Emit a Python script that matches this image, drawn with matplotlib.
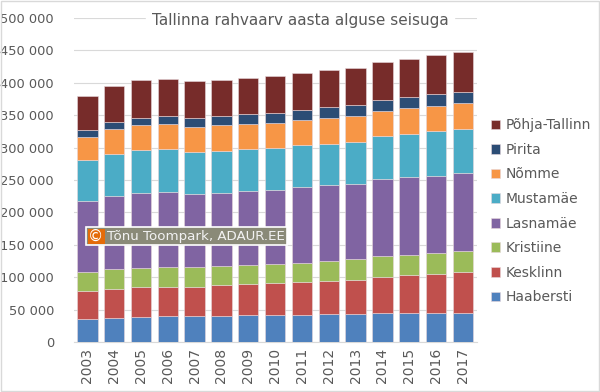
import matplotlib
matplotlib.use("Agg")
from matplotlib import pyplot as plt
from matplotlib.patches import Rectangle
import numpy as np

years = [str(y) for y in range(2003, 2018)]

# linnaosad, alt üles
haabersti = [35500, 37500, 38600, 39600, 39600, 40600, 41700, 41700, 42200, 43700, 43700, 44300, 44300, 45300, 45300]
kesklinn = [42700, 44800, 46300, 45800, 45800, 47900, 48300, 48800, 50400, 50900, 52500, 56000, 58600, 59600, 62200]
kristiine = [29300, 29900, 29800, 30300, 30300, 29300, 28800, 29300, 29800, 30400, 31400, 31900, 31900, 33000, 33400]
lasnamae = [109600, 112600, 115200, 115300, 112700, 112100, 114200, 115300, 116300, 116800, 116700, 119300, 119300, 118800, 119900]
mustamae = [64200, 65300, 66900, 66800, 65300, 65400, 64800, 64800, 65300, 64200, 64800, 65900, 67400, 68400, 67900]
nomme = [35500, 38600, 38600, 39100, 38600, 39100, 38600, 38600, 39100, 39700, 39200, 39600, 39100, 39600, 39700]
pirita = [10400, 10300, 10800, 12400, 13400, 14400, 15500, 14900, 14900, 17000, 17000, 16900, 17000, 18000, 17900]
pohja = [52900, 55600, 57600, 56600, 56600, 55500, 55000, 56600, 56600, 56600, 57500, 58700, 59600, 60200, 60800]

names = ["Haabersti", "Kesklinn", "Kristiine", "Lasnamäe", "Mustamäe", "Nõmme", "Pirita", "Põhja-Tallinn"]
series = [haabersti, kesklinn, kristiine, lasnamae, mustamae, nomme, pirita, pohja]
colors = ["#4F81BD", "#C0504D", "#9BBB59", "#8064A2", "#4BACC6", "#F79646", "#2C4D75", "#772C2A"]

W, H = 600, 392
fig = plt.figure(figsize=(6, 3.92), dpi=100)
ax = fig.add_axes([0.1225, 0.1276, 0.672, 0.8265])

x = np.arange(len(years))
bottom = np.zeros(len(years))
handles = []
for name, vals, c in zip(names, series, colors):
    b = ax.bar(x, vals, 0.76, bottom=bottom, color=c, edgecolor="#E8D8DC",
               linewidth=0.4, label=name, zorder=3)
    handles.append(b)
    bottom += np.array(vals)

ax.set_xlim(-0.52, 14.52)
ax.set_ylim(0, 500000)
ax.set_yticks(range(0, 500001, 50000))
ax.set_yticklabels(["{:,}".format(v).replace(",", " ") for v in range(0, 500001, 50000)])
ax.set_xticks(x)
ax.set_xticklabels(years, rotation=90)
ax.tick_params(axis="both", length=0, labelsize=10, colors="#595959")
ax.tick_params(axis="y", labelsize=9.4, pad=14)
ax.tick_params(axis="x", pad=4)
ax.grid(axis="y", color="#D9D9D9", linewidth=0.8, zorder=0)
for s in ["top", "right", "left"]:
    ax.spines[s].set_visible(False)
ax.spines["bottom"].set_color("#D9D9D9")

fig.text(0.5, 1 - 21 / H, "Tallinna rahvaarv aasta alguse seisuga", fontsize=11, color="#595959",
         ha="center", va="center", backgroundcolor="white", zorder=5)

leg = fig.legend(handles[::-1], names[::-1], loc="upper left", bbox_to_anchor=(0.797, 0.73),
                 frameon=False, fontsize=10, handlelength=0.7, handleheight=0.7,
                 handletextpad=0.35, labelspacing=0.76, labelcolor="#595959")

# vesimärk
fig.patches.append(Rectangle((86 / W, 1 - 245 / H), 201 / W, 18 / H, transform=fig.transFigure,
                             fc="#8A8A78", ec="white", lw=1.2, zorder=6))
fig.patches.append(Rectangle((87.5 / W, 1 - 243.5 / H), 17 / W, 15 / H, transform=fig.transFigure,
                             fc="#E46C0A", ec="none", zorder=7))
fig.text(96 / W, 1 - 236 / H, "©", fontsize=11, color="white", ha="center", va="center", zorder=8)
fig.text(107 / W, 1 - 236.5 / H, "Tõnu Toompark, ADAUR.EE", fontsize=9.6, color="#F2F2F2",
         ha="left", va="center", zorder=8)

fig.patches.append(Rectangle((0.001, 0.003), 0.997, 0.995, transform=fig.transFigure,
                             fill=False, ec="#D9D9D9", lw=1))

fig.savefig("out.png", dpi=100)
